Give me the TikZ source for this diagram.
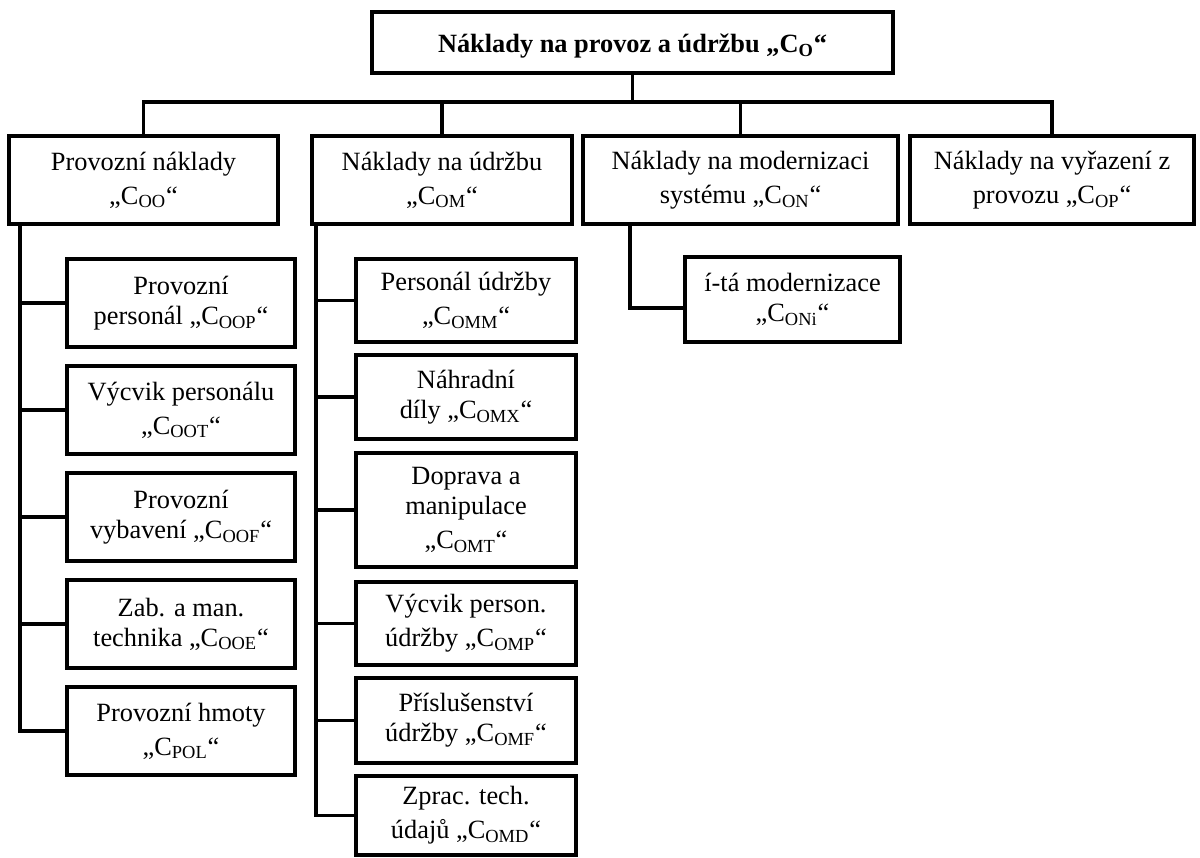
\documentclass[tikz,border=0pt]{standalone}
\usepackage{fontspec}
\setmainfont{Liberation Serif}
\usetikzlibrary{positioning,calc}

\newcommand{\cellfont}{\fontsize{15}{17}\selectfont}
% cost symbol, with a strut so that lines with a subscript stand a bit lower
\newcommand{\cost}[1]{\rule{0pt}{15pt}„C\textsubscript{#1}“}

\tikzset{
  costbox/.style={rectangle,draw=black,line width=2pt,fill=white,
    align=center,inner sep=2pt,font=\cellfont},
  rootbox/.style={costbox,font=\cellfont\bfseries},
  conn/.style={line width=2pt,draw=black}
}

\begin{document}
\begin{tikzpicture}

  \useasboundingbox (0,0) rectangle (24,-17.14);

  % Root
  \node[rootbox,minimum width=10.42cm,minimum height=1.22cm] (top) at (12.65,-0.85)
    {Náklady na provoz a údržbu \cost{O}};

  % Main cost groups
  \node[costbox,minimum width=5.38cm,minimum height=1.76cm] (oo) at (2.87,-3.60)
    {Provozní náklady\\\cost{OO}};
  \node[costbox,minimum width=5.2cm,minimum height=1.76cm] (om) at (8.84,-3.60)
    {Náklady na údržbu\\\cost{OM}};
  \node[costbox,minimum width=6.3cm,minimum height=1.76cm] (on) at (14.81,-3.60)
    {Náklady na modernizaci\\systému \cost{ON}};
  \node[costbox,minimum width=5.68cm,minimum height=1.76cm] (op) at (21.04,-3.60)
    {Náklady na vyřazení z\\provozu \cost{OP}};

  \coordinate (bus) at (0,-2.04);
  \draw[conn] (oo.north) -- (oo.north |- bus) -- (op.north |- bus) -- (op.north);
  \draw[conn] (top.south) -- (top.south |- bus);
  \draw[conn] (om.north) -- (om.north |- bus);
  \draw[conn] (on.north) -- (on.north |- bus);

  % Operating costs
  \node[costbox,minimum width=4.56cm,minimum height=1.76cm] (oo1) at (3.62,-6.06)
    {Provozní\\personál \cost{OOP}};
  \node[costbox,minimum width=4.56cm,minimum height=1.76cm] (oo2) at (3.62,-8.20)
    {Výcvik personálu\\\cost{OOT}};
  \node[costbox,minimum width=4.56cm,minimum height=1.76cm] (oo3) at (3.62,-10.34)
    {Provozní\\vybavení \cost{OOF}};
  \node[costbox,minimum width=4.56cm,minimum height=1.76cm] (oo4) at (3.62,-12.48)
    {Zab. a man.\\technika \cost{OOE}};
  \node[costbox,minimum width=4.56cm,minimum height=1.76cm] (oo5) at (3.62,-14.62)
    {Provozní hmoty\\\cost{POL}};

  \coordinate (ootrunk) at ([xshift=0.26cm]oo.south west);
  \foreach \n in {oo1,oo2,oo3,oo4,oo5}
    \draw[conn] (ootrunk) |- (\n.west);

  % Maintenance costs
  \node[costbox,minimum width=4.4cm,minimum height=1.66cm] (om1) at (9.32,-6.01)
    {Personál údržby\\\cost{OMM}};
  \node[costbox,minimum width=4.4cm,minimum height=1.68cm] (om2) at (9.32,-7.94)
    {Náhradní\\díly \cost{OMX}};
  \node[costbox,minimum width=4.4cm,minimum height=2.28cm] (om3) at (9.32,-10.20)
    {Doprava a\\manipulace\\\cost{OMT}};
  \node[costbox,minimum width=4.4cm,minimum height=1.66cm] (om4) at (9.32,-12.47)
    {Výcvik person.\\údržby \cost{OMP}};
  \node[costbox,minimum width=4.4cm,minimum height=1.70cm] (om5) at (9.32,-14.41)
    {Příslušenství\\údržby \cost{OMF}};
  \node[costbox,minimum width=4.4cm,minimum height=1.58cm] (om6) at (9.32,-16.31)
    {Zprac. tech.\\údajů \cost{OMD}};

  \coordinate (omtrunk) at ([xshift=0.12cm]om.south west);
  \foreach \n in {om1,om2,om3,om4,om5,om6}
    \draw[conn] (omtrunk) |- (\n.west);

  % Modernisation
  \node[costbox,minimum width=4.3cm,minimum height=1.70cm] (oni) at (15.85,-5.99)
    {í-tá modernizace\\\cost{ONi}};
  \draw[conn] ([xshift=0.98cm]on.south west) |- ([yshift=-0.17cm]oni.west);

\end{tikzpicture}
\end{document}
